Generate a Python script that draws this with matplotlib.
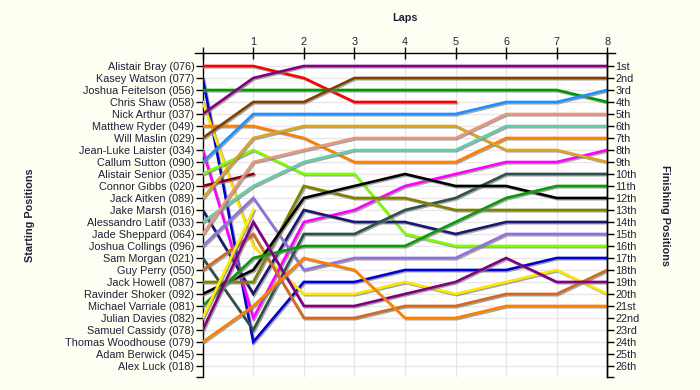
import matplotlib.pyplot as plt
import matplotlib.patheffects as pe

plt.rcParams['font.family'] = ['Liberation Sans', 'DejaVu Sans']

# Datos: posiciones por vuelta (vuelta 0 = parrilla de salida)
laps = list(range(0, 9))
lap_labels = ["", "1", "2", "3", "4", "5", "6", "7", "8"]

drivers = ["Alistair Bray (076)", "Kasey Watson (077)", "Joshua Feitelson (056)",
           "Chris Shaw (058)", "Nick Arthur (037)", "Matthew Ryder (049)",
           "Will Maslin (029)", "Jean-Luke Laister (034)", "Callum Sutton (090)",
           "Alistair Senior (035)", "Connor Gibbs (020)", "Jack Aitken (089)",
           "Jake Marsh (016)", "Alessandro Latif (033)", "Jade Sheppard (064)",
           "Joshua Collings (096)", "Sam Morgan (021)", "Guy Perry (050)",
           "Jack Howell (087)", "Ravinder Shoker (092)", "Michael Varriale (081)",
           "Julian Davies (082)", "Samuel Cassidy (078)", "Thomas Woodhouse (079)",
           "Adam Berwick (045)", "Alex Luck (018)"]

positions = [
    [1, 1, 2, 4, 4, 4],
    [2, 24, 19, 19, 18, 18, 18, 17, 17],
    [3, 3, 3, 3, 3, 3, 3, 3, 4],
    [4, 16, 20, 20, 19, 20, 19, 18, 20],
    [5, 2, 1, 1, 1, 1, 1, 1, 1],
    [6, 6, 7, 9, 9, 9, 7, 7, 7],
    [7, 4, 4, 2, 2, 2, 2, 2, 2],
    [8, 22, 14, 13, 11, 10, 9, 9, 8],
    [9, 5, 5, 5, 5, 5, 4, 4, 3],
    [10, 8, 10, 10, 15, 16, 16, 16, 16],
    [11, 10],
    [12, 7, 6, 6, 6, 6, 8, 8, 9],
    [13, 20, 13, 14, 14, 15, 14, 14, 14],
    [14, 11, 9, 8, 8, 8, 6, 6, 6],
    [15, 9, 8, 7, 7, 7, 5, 5, 5],
    [16, 12, 18, 17, 17, 17, 15, 15, 15],
    [17, 23, 15, 15, 13, 12, 10, 10, 10],
    [18, 15, 22, 22, 21, 21, 20, 20, 18],
    [19, 19, 11, 12, 12, 13, 13, 13, 13],
    [20, 18, 12, 11, 10, 11, 11, 12, 12],
    [21, 17, 16, 16, 16, 14, 12, 11, 11],
    [22, 13],
    [23, 14, 21, 21, 20, 19, 17, 19, 19],
    [24, 21, 17, 18, 22, 22, 21, 21, 21],
    [],
    [],
]

colors = ["#ff0000", "#0000d0", "#009a00", "#ffe600", "#800080", "#ff8000",
          "#804000", "#ff00ff", "#1e90ff", "#7cfc00", "#8b0000", "#daa520",
          "#191970", "#66cdaa", "#e9967a", "#9370db", "#2f4f4f", "#d2691e",
          "#808000", "#000000", "#0a9a0a", "#ffee00", "#800080", "#ff8000",
          "#999999", "#999999"]

finish_labels = ["1st", "2nd", "3rd", "4th", "5th", "6th", "7th", "8th", "9th",
                 "10th", "11th", "12th", "13th", "14th", "15th", "16th", "17th",
                 "18th", "19th", "20th", "21st", "22nd", "23rd", "24th", "25th", "26th"]

text_col = "#20203a"
bg = "#fffef2"
fs = 7.8

fig = plt.figure(figsize=(7, 3.9), dpi=100, facecolor=bg)
ax = fig.add_axes([202.7 / 700, 13 / 390, 404.6 / 700, 324 / 390])
ax.set_facecolor("white")

y_top, y_bot = -0.083, 26.92
ax.set_xlim(0, 8)
ax.set_ylim(y_bot, y_top)

sombra = [pe.SimpleLineShadow(offset=(0.9, -0.9), shadow_color="#808080", alpha=0.7), pe.Normal()]
for pos, col in zip(positions, colors):
    if pos:
        ax.plot(laps[:len(pos)], pos, color=col, lw=1.9, solid_joinstyle="miter",
                path_effects=sombra, zorder=3)

# rejilla
for y in range(1, 28):
    ax.axhline(y, color="#e6e6e6", lw=0.9, zorder=1)
for x in laps[1:]:
    ax.axvline(x, color="#e6e6e6", lw=0.9, zorder=1)

# ejes
ax.spines["bottom"].set_visible(False)
ax.spines["top"].set_visible(False)
for s in ["left", "right"]:
    ax.spines[s].set_color("black")
    ax.spines[s].set_linewidth(1.0)

ax.plot([-0.15, 8.15], [y_top, y_top], color="black", lw=1.0, clip_on=False, zorder=5)

yt = list(range(1, 27)) + [y_bot]
ax.set_yticks(yt)
ax.set_yticklabels(drivers + [""], fontsize=fs, color=text_col)
ax.tick_params(axis="y", which="both", direction="out", length=5, width=1, pad=1)

ax2 = ax.twinx()
ax2.set_ylim(y_bot, y_top)
ax2.set_yticks(yt)
ax2.set_yticklabels(finish_labels + [""], fontsize=fs, color=text_col)
ax2.tick_params(axis="y", direction="out", length=5, width=1, pad=1)
for s in ["bottom", "top", "left"]:
    ax2.spines[s].set_visible(False)
ax2.spines["right"].set_linewidth(1.0)

ax.xaxis.tick_top()
ax.set_xticks(laps)
ax.set_xticklabels(lap_labels, fontsize=fs, color=text_col)
ax.tick_params(axis="x", direction="inout", length=8, width=1, pad=0.5)

fig.text(404.6 / 700, 1 - 18 / 390, "Laps", ha="center", va="center",
         fontsize=fs, fontweight="bold", color=text_col)
fig.text(30 / 700, 1 - 215 / 390, "Starting Positions", ha="center", va="center",
         rotation=90, fontsize=fs, fontweight="bold", color=text_col)
fig.text(665 / 700, 1 - 215 / 390, "Finishing Positions", ha="center", va="center",
         rotation=-90, fontsize=fs, fontweight="bold", color=text_col)

fig.savefig("out.png", dpi=100, facecolor=bg)
plt.close(fig)
